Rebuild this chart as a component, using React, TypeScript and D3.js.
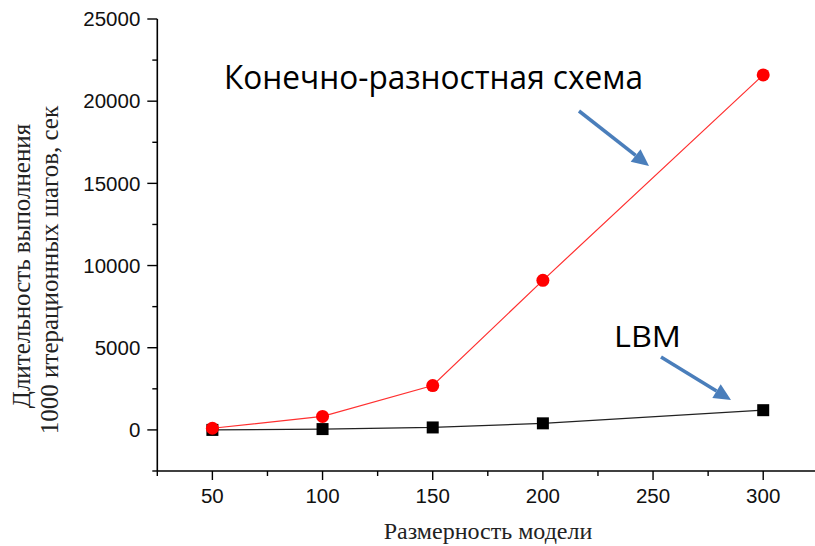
import React from "react";
import * as d3 from "d3";

const sizes = [50, 100, 150, 200, 300];
const fdmValues = [100, 820, 2700, 9100, 21600];
const lbmValues = [0, 50, 150, 400, 1200];
const xTicksMajor = [50, 100, 150, 200, 250, 300];
const yTicksMajor = [0, 5000, 10000, 15000, 20000, 25000];
const yTitleLines = ["Длительность выполнения", "1000 итерационных шагов, сек"];
const xTitle = "Размерность модели";
const fdmLabel = "Конечно-разностная схема";
const lbmLabel = "LBM";

const W = 815;
const H = 546;

export default function App() {
  const x = d3.scaleLinear().domain([25, 325]).range([157.3, 818.3]);
  const y = d3.scaleLinear().domain([-2500, 25000]).range([471, 19]);
  const xMinor = d3.range(25, 326, 25).filter((v) => !xTicksMajor.includes(v));
  const yMinor = d3.range(-2500, 25001, 2500).filter((v) => !yTicksMajor.includes(v));
  const line = d3
    .line<number>()
    .x((_, i) => x(sizes[i]))
    .y((d) => y(d));
  const axisX0 = x(25);
  const axisY0 = y(-2500);
  const tickFont = "'Liberation Sans', Arial, sans-serif";
  const serif = "'Liberation Serif', 'Times New Roman', serif";
  const blue = "#4a7ebb";
  const arrow = (x1: number, y1: number, x2: number, y2: number) => {
    const ang = Math.atan2(y2 - y1, x2 - x1);
    const L = 17;
    const w = 8;
    const bx = x2 - L * Math.cos(ang);
    const by = y2 - L * Math.sin(ang);
    const px = -Math.sin(ang) * w;
    const py = Math.cos(ang) * w;
    return (
      <g>
        <line x1={x1} y1={y1} x2={bx} y2={by} stroke={blue} strokeWidth={3.5} />
        <path d={`M${x2},${y2}L${bx + px},${by + py}L${bx - px},${by - py}Z`} fill={blue} />
      </g>
    );
  };
  return (
    <div style={{ position: "fixed", left: 0, top: 0 }}>
      <svg width={W} height={H} style={{ display: "block", background: "#fff" }}>
        <rect width={W} height={H} fill="#fff" />
        {/* axes */}
        <line x1={axisX0} y1={y(25000)} x2={axisX0} y2={axisY0} stroke="#000" strokeWidth={1.6} />
        <line x1={axisX0} y1={axisY0} x2={W} y2={axisY0} stroke="#000" strokeWidth={1.6} />
        {yTicksMajor.map((t) => (
          <g key={"ym" + t}>
            <line x1={axisX0 - 10} x2={axisX0} y1={y(t)} y2={y(t)} stroke="#000" strokeWidth={1.4} />
            <text x={axisX0 - 17} y={y(t)} dy="0.35em" textAnchor="end" fontFamily={tickFont} fontSize={20.5} fill="#111">
              {t}
            </text>
          </g>
        ))}
        {yMinor.map((t) => (
          <line key={"yn" + t} x1={axisX0 - 5} x2={axisX0} y1={y(t)} y2={y(t)} stroke="#000" strokeWidth={1.4} />
        ))}
        {xTicksMajor.map((t) => (
          <g key={"xm" + t}>
            <line x1={x(t)} x2={x(t)} y1={axisY0} y2={axisY0 + 9} stroke="#000" strokeWidth={1.4} />
            <text x={x(t)} y={axisY0 + 32} textAnchor="middle" fontFamily={tickFont} fontSize={20.5} fill="#111">
              {t}
            </text>
          </g>
        ))}
        {xMinor.map((t) => (
          <line key={"xn" + t} x1={x(t)} x2={x(t)} y1={axisY0} y2={axisY0 + 5} stroke="#000" strokeWidth={1.4} />
        ))}
        {/* titles */}
        <text x={488} y={539} textAnchor="middle" fontFamily={serif} fontSize={24} fill="#222">
          {xTitle}
        </text>
        <g transform="translate(30,266) rotate(-90)">
          <text x={0} y={0} textAnchor="middle" fontFamily={serif} fontSize={25} fill="#222">
            {yTitleLines[0]}
          </text>
        </g>
        <g transform="translate(58,270) rotate(-90)">
          <text x={0} y={0} textAnchor="middle" fontFamily={serif} fontSize={25} fill="#222">
            {yTitleLines[1]}
          </text>
        </g>
        {/* series */}
        <path d={line(lbmValues) || ""} fill="none" stroke="#222" strokeWidth={1.2} />
        {lbmValues.map((v, i) => (
          <rect key={"s" + i} x={x(sizes[i]) - 6} y={y(v) - 6} width={12} height={12} fill="#000" />
        ))}
        <path d={line(fdmValues) || ""} fill="none" stroke="#ff3030" strokeWidth={1.2} />
        {fdmValues.map((v, i) => (
          <circle key={"c" + i} cx={x(sizes[i])} cy={y(v)} r={6.5} fill="#ff0000" />
        ))}
        {/* annotations */}
        <text x={224} y={89} fontFamily="'Open Sans', 'Noto Sans', sans-serif" fontSize={32} textLength={419} lengthAdjust="spacingAndGlyphs" fill="#000">
          {fdmLabel}
        </text>
        <text x={614} y={347} fontFamily="'Open Sans', 'Noto Sans', sans-serif" fontSize={30} textLength={67} lengthAdjust="spacingAndGlyphs" fill="#000">
          {lbmLabel}
        </text>
        {arrow(579, 111, 649, 166)}
        {arrow(661, 357, 731, 400)}
      </svg>
    </div>
  );
}
